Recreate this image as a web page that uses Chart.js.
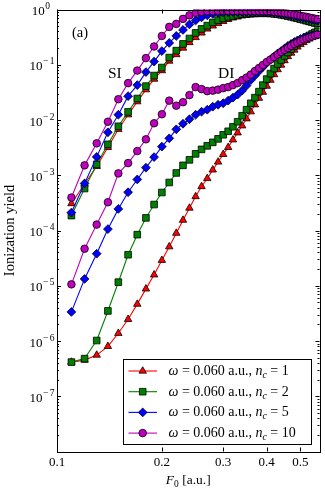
<!DOCTYPE html>
<html><head><meta charset="utf-8">
<script src="https://cdn.jsdelivr.net/npm/chart.js@4/dist/chart.umd.min.js"></script>
<style>html,body{margin:0;padding:0;background:#fff;overflow:hidden}canvas{display:block}</style>
</head><body>
<canvas id="c" width="325" height="491"></canvas>
<script>
// ---------- data ----------
const fieldF = [0.11,0.12,0.13,0.14,0.15,0.16,0.17,0.18,0.19,0.20,
  0.21,0.22,0.23,0.24,0.25,0.26,0.27,0.28,0.29,0.30,
  0.31,0.32,0.33,0.34,0.35,0.36,0.37,0.38,0.39,0.40,
  0.41,0.42,0.43,0.44,0.45,0.46,0.47,0.48,0.49,0.50,
  0.51,0.52,0.53,0.54,0.55,0.56];

const siNc1 = [3.08e-4,6.95e-4,1.45e-3,3.20e-3,6.8e-3,0.01246,0.0215,0.0354,0.0550,0.0785,
  0.1167,0.153,0.201,0.253,0.312,0.377,0.445,0.505,0.560,0.609,
  0.662,0.705,0.735,0.767,0.783,0.800,0.806,0.813,0.813,0.813,
  0.810,0.800,0.783,0.767,0.748,0.729,0.705,0.685,0.662,0.643,
  0.622,0.601,0.582,0.565,0.546,0.526];
const diNc1 = [4.15e-7,4.51e-7,5.56e-7,8.0e-7,1.38e-6,2.47e-6,4.65e-6,8.78e-6,1.58e-5,2.89e-5,
  5.09e-5,8.95e-5,1.54e-4,2.55e-4,4.12e-4,6.26e-4,8.75e-4,1.25e-3,1.74e-3,2.39e-3,
  3.20e-3,4.38e-3,5.87e-3,7.86e-3,0.01054,0.01412,0.0189,0.0248,0.0319,0.0410,
  0.0527,0.0664,0.0818,0.0988,0.119,0.141,0.163,0.185,0.210,0.233,
  0.253,0.275,0.293,0.312,0.325,0.339];

const siNc2 = [1.86e-4,5.75e-4,1.57e-3,3.63e-3,7.7e-3,0.0140,0.0245,0.0410,0.0637,0.0890,
  0.135,0.180,0.238,0.299,0.377,0.445,0.511,0.584,0.643,0.691,
  0.735,0.767,0.800,0.823,0.841,0.851,0.859,0.862,0.862,0.862,
  0.855,0.841,0.823,0.806,0.786,0.767,0.745,0.720,0.699,0.676,
  0.657,0.635,0.614,0.597,0.577,0.560];
const diNc2 = [4.15e-7,4.80e-7,1.02e-6,3.50e-6,1.16e-5,3.64e-5,8.41e-5,1.69e-4,2.95e-4,4.87e-4,
  7.40e-4,1.10e-3,1.51e-3,1.90e-3,2.44e-3,2.94e-3,3.41e-3,3.94e-3,4.56e-3,5.40e-3,
  6.25e-3,7.54e-3,9.29e-3,0.01194,0.01535,0.0201,0.0254,0.0326,0.0428,0.0550,
  0.0692,0.0853,0.103,0.1217,0.144,0.167,0.193,0.219,0.243,0.269,
  0.293,0.319,0.339,0.361,0.385,0.401];

const siNc5 = [2.11e-4,7.1e-4,2.15e-3,5.99e-3,0.01246,0.0270,0.0428,0.0737,0.114,0.177,
  0.248,0.332,0.427,0.537,0.635,0.720,0.783,0.834,0.869,0.888,
  0.895,0.899,0.900,0.900,0.900,0.899,0.899,0.897,0.895,0.893,
  0.891,0.877,0.859,0.841,0.823,0.803,0.783,0.763,0.745,0.726,
  0.708,0.691,0.674,0.657,0.641,0.625];
const diNc5 = [3.36e-6,1.33e-5,3.80e-5,1.06e-4,2.46e-4,4.93e-4,8.39e-4,1.37e-3,2.13e-3,3.30e-3,
  4.66e-3,6.79e-3,8.55e-3,0.01032,0.01246,0.01412,0.01535,0.0174,0.0189,0.0201,
  0.0224,0.0254,0.0288,0.0340,0.0419,0.0527,0.0637,0.0768,0.0908,0.107,
  0.124,0.141,0.160,0.177,0.197,0.219,0.238,0.258,0.275,0.293,
  0.305,0.319,0.332,0.339,0.346,0.354];

const siNc10 = [3.95e-4,1.51e-3,3.78e-3,9.3e-3,0.0238,0.0465,0.0785,0.132,0.214,0.332,
  0.484,0.549,0.676,0.783,0.869,0.906,0.930,0.935,0.940,0.940,
  0.940,0.940,0.935,0.935,0.930,0.930,0.930,0.930,0.928,0.928,
  0.926,0.906,0.895,0.880,0.862,0.844,0.827,0.806,0.790,0.770,
  0.751,0.735,0.717,0.699,0.682,0.665];
const diNc10 = [1.06e-5,4.68e-5,1.28e-4,3.25e-4,1.08e-3,1.66e-3,2.74e-3,4.47e-3,8.73e-3,0.01272,
  0.0224,0.01815,0.0210,0.0282,0.0394,0.0362,0.0333,0.0340,0.0354,0.0377,
  0.0394,0.0428,0.0465,0.0527,0.0585,0.0664,0.0768,0.0871,0.0988,0.112,
  0.124,0.138,0.153,0.170,0.185,0.201,0.219,0.238,0.253,0.269,
  0.287,0.299,0.312,0.325,0.339,0.354];

const cycleCounts = ['1','2','5','10'];
const xTickValues = [0.1,0.2,0.3,0.4,0.5];
const xTickLabels = ['0.1','0.2','0.3','0.4','0.5'];
const yTickExponents = [0,-1,-2,-3,-4,-5,-6,-7];

// ---------- styles ----------
const SERIF = '"Liberation Serif","DejaVu Serif",serif';
const styles = [
  {color:'#ff0000', point:'triangle', r:4.3},
  {color:'#008000', point:'rect', r:4.7},
  {color:'#0000ff', point:'rectRot', r:4.4},
  {color:'#bf00bf', point:'circle', r:3.8}
];
const series = [[siNc1,diNc1],[siNc2,diNc2],[siNc5,diNc5],[siNc10,diNc10]];

const datasets = [];
series.forEach((pair, k) => {
  pair.forEach((vals, j) => {
    const s = styles[k];
    datasets.push({
      label: (j===0?'SI':'DI')+' nc='+cycleCounts[k],
      data: fieldF.map((f,i)=>({x:f, y:vals[i]})),
      showLine: true,
      borderColor: s.color,
      backgroundColor: s.color,
      borderWidth: 1.1,
      pointStyle: s.point,
      pointRadius: s.r,
      pointBackgroundColor: s.color,
      pointBorderColor: '#000',
      pointBorderWidth: 0.8,
      tension: 0,
      clip: 0,
      order: 10 - (k*2 + j)
    });
  });
});

// ---------- helpers ----------
function drawMarker(ctx, style, r, x, y, color){
  ctx.save();
  ctx.fillStyle = color; ctx.strokeStyle = '#000'; ctx.lineWidth = 0.8;
  ctx.beginPath();
  if (style === 'circle') { ctx.arc(x, y, r, 0, Math.PI*2); }
  else if (style === 'rect') { const s = Math.SQRT1_2*r; ctx.rect(x-s, y-s, 2*s, 2*s); }
  else if (style === 'rectRot') { ctx.moveTo(x, y-r); ctx.lineTo(x+r, y); ctx.lineTo(x, y+r); ctx.lineTo(x-r, y); ctx.closePath(); }
  else if (style === 'triangle') {
    let a = 0; ctx.moveTo(x+Math.sin(a)*r, y-Math.cos(a)*r);
    a += 2*Math.PI/3; ctx.lineTo(x+Math.sin(a)*r, y-Math.cos(a)*r);
    a += 2*Math.PI/3; ctx.lineTo(x+Math.sin(a)*r, y-Math.cos(a)*r);
    ctx.closePath();
  }
  ctx.fill(); ctx.stroke();
  ctx.restore();
}
function richWidth(ctx, segs, size){
  let w = 0;
  segs.forEach(s => {
    const fs = (s.sub||s.sup) ? size*0.7 : size;
    ctx.font = (s.it?'italic ':'') + fs + 'px ' + SERIF;
    w += ctx.measureText(s.t).width;
  });
  return w;
}
function drawRich(ctx, x, y, segs, size){
  let cx = x;
  ctx.textBaseline = 'alphabetic'; ctx.textAlign = 'left';
  segs.forEach(s => {
    const fs = (s.sub||s.sup) ? size*0.7 : size;
    ctx.font = (s.it?'italic ':'') + fs + 'px ' + SERIF;
    const dy = s.sub ? size*0.22 : (s.sup ? -size*0.42 : 0);
    ctx.fillText(s.t, cx, y + dy);
    cx += ctx.measureText(s.t).width;
  });
  return cx;
}

const decor = {
  id: 'decor',
  afterDraw(chart){
    const {ctx, chartArea:a, scales:{x, y}} = chart;
    ctx.save();
    ctx.fillStyle = '#000'; ctx.strokeStyle = '#000'; ctx.lineWidth = 1;
    // ticks (inward, all four sides)
    ctx.beginPath();
    for (let e = -8; e <= 0; e++) {
      for (let m = 1; m < 10; m++) {
        const v = m * Math.pow(10, e);
        if (v > 1.0000001) break;
        const py = Math.round(y.getPixelForValue(v)) + 0.5;
        const len = (m === 1) ? 4 : 2;
        ctx.moveTo(a.left, py); ctx.lineTo(a.left + len, py);
        ctx.moveTo(a.right, py); ctx.lineTo(a.right - len, py);
      }
    }
    xTickValues.forEach(v => {
      const px = Math.round(x.getPixelForValue(v)) + 0.5;
      ctx.moveTo(px, a.bottom); ctx.lineTo(px, a.bottom - 4);
      ctx.moveTo(px, a.top); ctx.lineTo(px, a.top + 4);
    });
    ctx.stroke();
    // frame
    ctx.strokeRect(Math.round(a.left)+0.5, Math.round(a.top)+0.5, Math.round(a.right-a.left), Math.round(a.bottom-a.top));

    // x tick labels
    ctx.font = '13px ' + SERIF; ctx.textAlign = 'center'; ctx.textBaseline = 'middle';
    xTickValues.forEach((v, i) => ctx.fillText(xTickLabels[i], x.getPixelForValue(v), a.bottom + 11));
    // y tick labels 10^e
    yTickExponents.forEach(e => {
      const py = y.getPixelForValue(Math.pow(10, e));
      const right = e === 0 ? 50 : 54.5;
      ctx.textAlign = 'right'; ctx.textBaseline = 'alphabetic';
      ctx.font = '9.5px ' + SERIF;
      let ew;
      if (e === 0) { ctx.fillText('0', right, py - 0.5); ew = ctx.measureText('0').width; }
      else {
        const d = String(-e);
        ctx.fillText(d, right, py - 0.5);
        const dw = ctx.measureText(d).width;
        const mw = ctx.measureText('\u2212').width;
        ctx.fillText('\u2212', right - dw - 1.5, py - 0.5);
        ew = dw + mw + 1.5;
      }
      ctx.font = '13px ' + SERIF;
      ctx.fillText('10', right - ew - 0.5, py + 5.5);
    });
    // axis titles
    ctx.save();
    ctx.translate(10, (a.top + a.bottom)/2);
    ctx.rotate(-Math.PI/2);
    ctx.font = '14.5px ' + SERIF; ctx.textAlign = 'center'; ctx.textBaseline = 'middle';
    ctx.fillText('Ionization yield', 0, 0);
    ctx.restore();
    const xl = [{t:'F',it:true},{t:'0',sub:true},{t:' [a.u.]'}];
    const xw = richWidth(ctx, xl, 13.5);
    ctx.fillStyle = '#000';
    drawRich(ctx, (a.left + a.right)/2 - xw/2, 484, xl, 13.5);

    // panel and region labels
    ctx.font = '14.5px ' + SERIF; ctx.textAlign = 'left'; ctx.textBaseline = 'alphabetic';
    ctx.fillText('(a)', 72, 37);
    ctx.font = '15.5px ' + SERIF;
    ctx.fillText('SI', 108, 78);
    ctx.fillText('DI', 218, 78);

    // legend
    const lx = 123.5, ly = 359.5, lw = 188, lh = 85;
    ctx.fillStyle = '#fff'; ctx.fillRect(lx, ly, lw, lh);
    ctx.strokeStyle = '#000'; ctx.lineWidth = 1; ctx.strokeRect(lx, ly, lw, lh);
    const labels = cycleCounts.map(n => [{t:'\u03c9',it:true},{t:' = 0.060 a.u., '},{t:'n',it:true},{t:'c',it:true,sub:true},{t:' = '+n}]);
    const base = 12;
    const longest = Math.max(...labels.map(l => richWidth(ctx, l, base)));
    const fs = Math.max(10, Math.min(14, base * 140 / longest));
    styles.forEach((s, i) => {
      const cy = 371 + i * 20.7;
      ctx.strokeStyle = s.color; ctx.lineWidth = 1.1;
      ctx.beginPath(); ctx.moveTo(128.5, cy); ctx.lineTo(157, cy); ctx.stroke();
      drawMarker(ctx, s.point, s.r, 142.7, cy, s.color);
      ctx.fillStyle = '#000';
      drawRich(ctx, 168.5, cy + 4, labels[i], fs);
    });
    ctx.restore();
  }
};

new Chart(document.getElementById('c'), {
  type: 'scatter',
  data: { datasets },
  options: {
    responsive: false,
    animation: false,
    devicePixelRatio: 1,
    layout: { padding: { left: 57, right: 4.3, top: 9.5, bottom: 39.5 } },
    scales: {
      x: { type: 'logarithmic', min: 0.1, max: 0.567, display: false },
      y: { type: 'logarithmic', min: 1e-8, max: 1, display: false }
    },
    plugins: { legend: { display: false }, tooltip: { enabled: false } }
  },
  plugins: [decor]
});
</script>
</body></html>
